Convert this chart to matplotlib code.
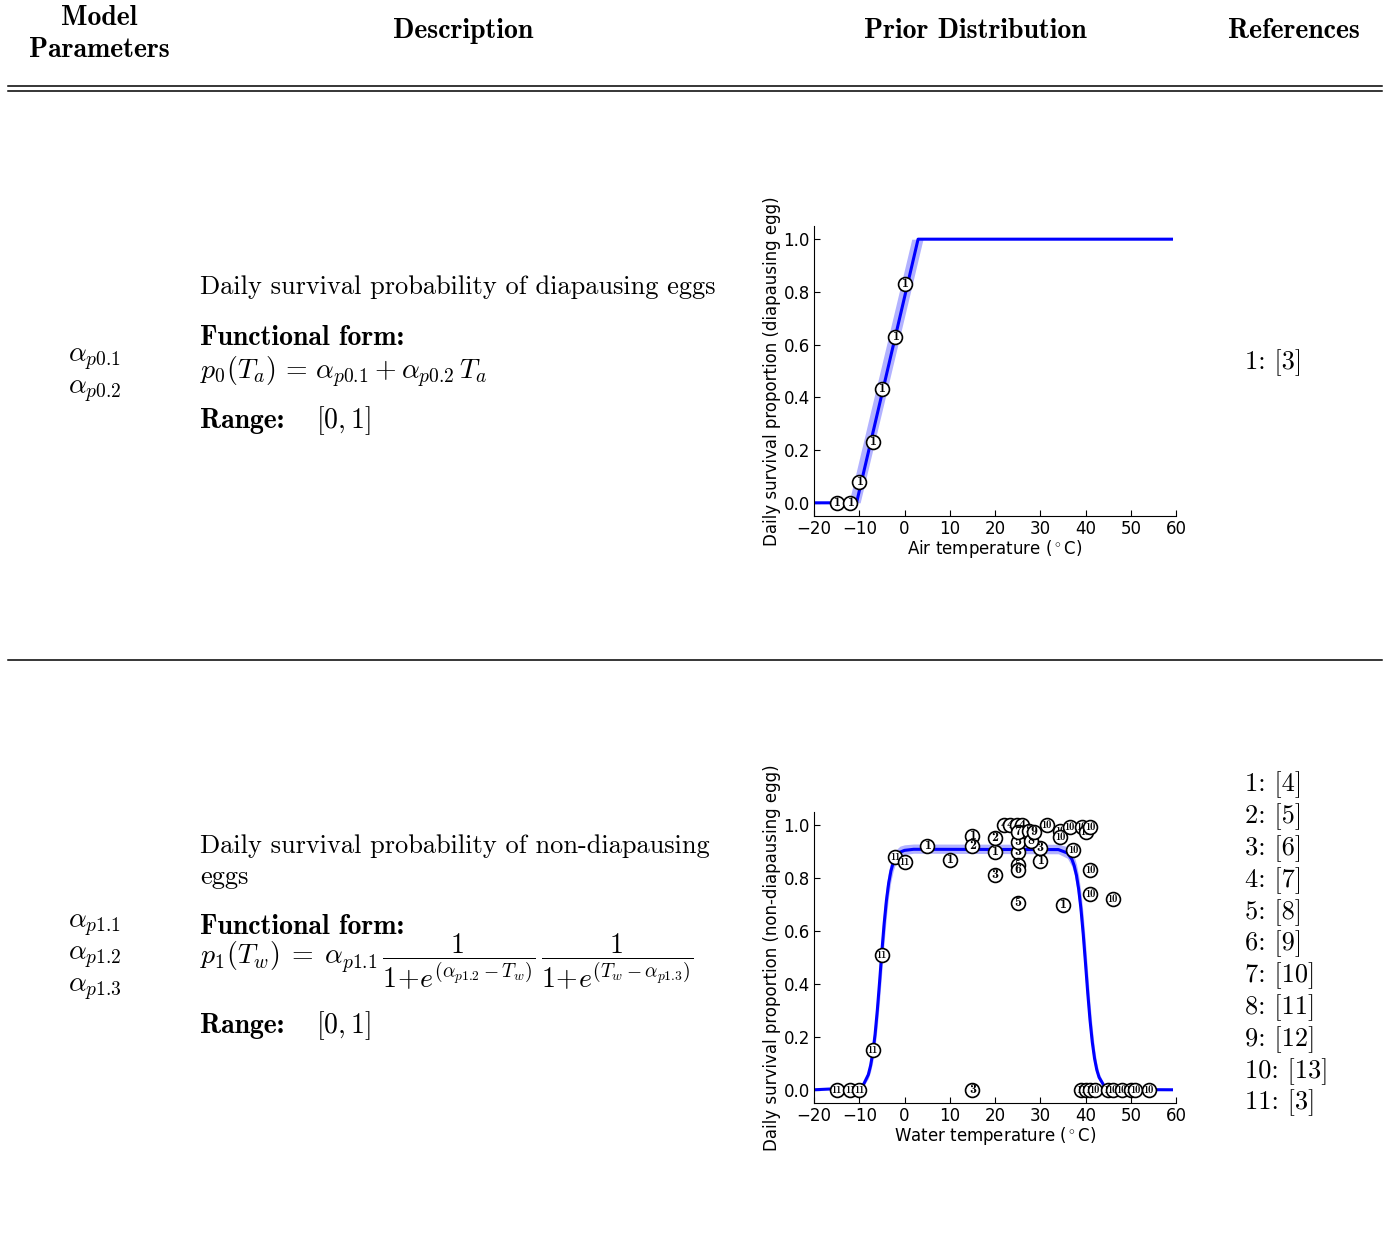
import matplotlib.pyplot as plt
from matplotlib.lines import Line2D

plt.rcParams['mathtext.fontset'] = 'cm'

W, H = 1389, 1251

# diapausing eggs vs air temperature (curve + credible band)
air_T = [-20, -12.3, -10.6, -9.8, 1.6, 3.0, 4.1, 59]
air_p = [0, 0, 0, 0.059, 0.897, 1, 1, 1]
air_lo = [0, 0, 0, 0, 0.82, 0.921, 1, 1]
air_hi = [0, 0, 0.122, 0.18, 1, 1, 1, 1]
air_obs_T = [-15, -12, -10, -7, -5, -2, 0]
air_obs_p = [0, 0, 0.08, 0.23, 0.43, 0.63, 0.83]
air_obs_ref = [1, 1, 1, 1, 1, 1, 1]

# non-diapausing eggs vs water temperature
water_T = [-20, -10, -9, -8, -7.5, -7, -6.5, -6, -5.5, -5, -4.5, -4, -3.5, -3,
           -2.5, -2, -1, 0, 2, 34, 36, 37, 37.5, 38, 38.5, 39, 39.5, 40, 40.5,
           41, 41.5, 42, 42.5, 43, 44, 45, 47, 59]
water_p = [0, 0.008, 0.022, 0.057, 0.091, 0.140, 0.210, 0.302, 0.409, 0.523,
           0.628, 0.715, 0.781, 0.827, 0.858, 0.877, 0.898, 0.905, 0.909, 0.908,
           0.895, 0.871, 0.847, 0.811, 0.757, 0.683, 0.588, 0.478, 0.365, 0.263,
           0.180, 0.118, 0.075, 0.047, 0.018, 0.007, 0.001, 0]
water_hi = [0, 0.011, 0.030, 0.077, 0.121, 0.184, 0.269, 0.373, 0.488, 0.601,
            0.698, 0.774, 0.829, 0.866, 0.890, 0.905, 0.921, 0.926, 0.929, 0.928,
            0.919, 0.900, 0.882, 0.853, 0.809, 0.746, 0.661, 0.557, 0.442, 0.329,
            0.233, 0.156, 0.101, 0.064, 0.025, 0.009, 0.001, 0]
water_lo = [0, 0.006, 0.016, 0.042, 0.068, 0.107, 0.163, 0.241, 0.338, 0.448,
            0.557, 0.654, 0.732, 0.788, 0.827, 0.853, 0.879, 0.889, 0.894, 0.892,
            0.875, 0.844, 0.814, 0.768, 0.703, 0.618, 0.514, 0.403, 0.297, 0.207,
            0.138, 0.089, 0.056, 0.035, 0.013, 0.005, 0.001, 0]

water_obs_T = [5, 10, 15, 20, 30, 35,
               15, 20,
               15, 20, 25, 30,
               22, 23.3, 24.8, 25.9,
               25, 25, 25,
               25,
               25,
               27.5, 28,
               28.7,
               31.4, 34.4, 34.4, 36.5, 39.2, 40, 41, 37.3, 41, 41, 46,
               39, 40, 41, 42, 45, 46, 48, 50, 51, 54,
               -15, -12, -10, -7, -5, -2, 0]
water_obs_p = [0.92, 0.87, 0.96, 0.90, 0.865, 0.70,
               0.92, 0.95,
               0.0, 0.81, 0.90, 0.915,
               1.0, 1.0, 1.0, 1.0,
               0.935, 0.85, 0.705,
               0.83,
               0.975,
               0.98, 0.94,
               0.975,
               1.0, 0.98, 0.957, 0.995, 0.995, 0.975, 0.995, 0.905, 0.83, 0.74, 0.72,
               0, 0, 0, 0, 0, 0, 0, 0, 0, 0,
               0, 0, 0, 0.15, 0.51, 0.88, 0.86]
water_obs_ref = [1] * 6 + [2] * 2 + [3] * 4 + [4] * 4 + [5] * 3 + [6] + [7] + \
                [8] * 2 + [9] + [10] * 21 + [11] * 7

row1_refs = ['1: [3]']
row2_refs = ['1: [4]', '2: [5]', '3: [6]', '4: [7]', '5: [8]', '6: [9]',
             '7: [10]', '8: [11]', '9: [12]', '10: [13]', '11: [3]']


def fx(x):
    return x / W


def fy(y):
    return 1 - y / H


fig = plt.figure(figsize=(W / 100, H / 100), dpi=100)

serif = dict(family='cmr10', fontsize=19)
bold = dict(family='cmb10', fontsize=20)
MS = 20  # math size

# header
fig.text(fx(99), fy(18), 'Model', ha='center', va='center', **bold)
fig.text(fx(99), fy(50), 'Parameters', ha='center', va='center', **bold)
fig.text(fx(463), fy(31), 'Description', ha='center', va='center', **bold)
fig.text(fx(975), fy(31), 'Prior Distribution', ha='center', va='center', **bold)
fig.text(fx(1294), fy(31), 'References', ha='center', va='center', **bold)

for yy in (86, 91, 660):
    fig.add_artist(Line2D([fx(8), fx(1382)], [fy(yy), fy(yy)], color='black', lw=1.1))

# row 1 text
fig.text(fx(68), fy(359), r'$\alpha_{p0.1}$', va='center', fontsize=MS)
fig.text(fx(68), fy(391), r'$\alpha_{p0.2}$', va='center', fontsize=MS)
fig.text(fx(200), fy(287), 'Daily survival probability of diapausing eggs', va='center', **serif)
fig.text(fx(200), fy(338), 'Functional form:', va='center', **bold)
fig.text(fx(200), fy(372), r'$p_0(T_a)\,=\,\alpha_{p0.1} + \alpha_{p0.2}\,T_a$', va='center', fontsize=MS)
fig.text(fx(200), fy(421), 'Range:', va='center', **bold)
fig.text(fx(316), fy(421), r'$[0, 1]$', va='center', fontsize=MS)
for i, r in enumerate(row1_refs):
    fig.text(fx(1245), fy(363 + 31.8 * i), r, va='center', **serif)

# row 2 text
for i, name in enumerate([r'$\alpha_{p1.1}$', r'$\alpha_{p1.2}$', r'$\alpha_{p1.3}$']):
    fig.text(fx(68), fy(925 + 32 * i), name, va='center', fontsize=MS)
fig.text(fx(200), fy(846), 'Daily survival probability of non-diapausing', va='center', **serif)
fig.text(fx(200), fy(877), 'eggs', va='center', **serif)
fig.text(fx(200), fy(927), 'Functional form:', va='center', **bold)
fig.text(fx(200), fy(962),
         r'$p_1(T_w)\;=\;\alpha_{p1.1}\,\dfrac{1}{1\!+\!e^{(\alpha_{p1.2}-T_w)}}\,'
         r'\dfrac{1}{1\!+\!e^{(T_w-\alpha_{p1.3})}}$',
         va='center', fontsize=MS)
fig.text(fx(200), fy(1026), 'Range:', va='center', **bold)
fig.text(fx(316), fy(1026), r'$[0, 1]$', va='center', fontsize=MS)
for i, r in enumerate(row2_refs):
    fig.text(fx(1245), fy(785 + 31.8 * i), r, va='center', **serif)


def draw_panel(ax, T, p, lo, hi, obs_T, obs_p, obs_ref, xlabel, ylabel):
    ax.fill_between(T, lo, hi, color='blue', alpha=0.3, lw=0, zorder=1)
    ax.plot(T, p, color='blue', lw=2.2, zorder=2)
    z = 3
    for t, v, r in zip(obs_T, obs_p, obs_ref):
        ax.plot(t, v, 'o', ms=10, mfc='white', mec='black', mew=1.2, zorder=z)
        ax.text(t, v, str(r), ha='center', va='center', family='cmb10',
                fontsize=10 if r < 10 else 7.5, zorder=z + 0.5)
        z += 1
    ax.set_xlim(-20, 60)
    ax.set_ylim(-0.05, 1.05)
    ax.set_xticks(range(-20, 61, 10))
    ax.set_yticks([0, 0.2, 0.4, 0.6, 0.8, 1.0])
    ax.spines['top'].set_visible(False)
    ax.spines['right'].set_visible(False)
    ax.tick_params(direction='in', length=4, labelsize=12, pad=3, top=False, right=False)
    ax.set_xlabel(xlabel, fontsize=12, labelpad=0)
    ax.set_ylabel(ylabel, fontsize=12, labelpad=2)


ax1 = fig.add_axes([fx(814), fy(516), 362 / W, 290 / H])
draw_panel(ax1, air_T, air_p, air_lo, air_hi, air_obs_T, air_obs_p, air_obs_ref,
           r'Air temperature ($^\circ$C)', 'Daily survival proportion (diapausing egg)')

ax2 = fig.add_axes([fx(814), fy(1103), 362 / W, 291 / H])
draw_panel(ax2, water_T, water_p, water_lo, water_hi, water_obs_T, water_obs_p, water_obs_ref,
           r'Water temperature ($^\circ$C)', 'Daily survival proportion (non-diapausing egg)')

fig.savefig('out.png', dpi=100)
